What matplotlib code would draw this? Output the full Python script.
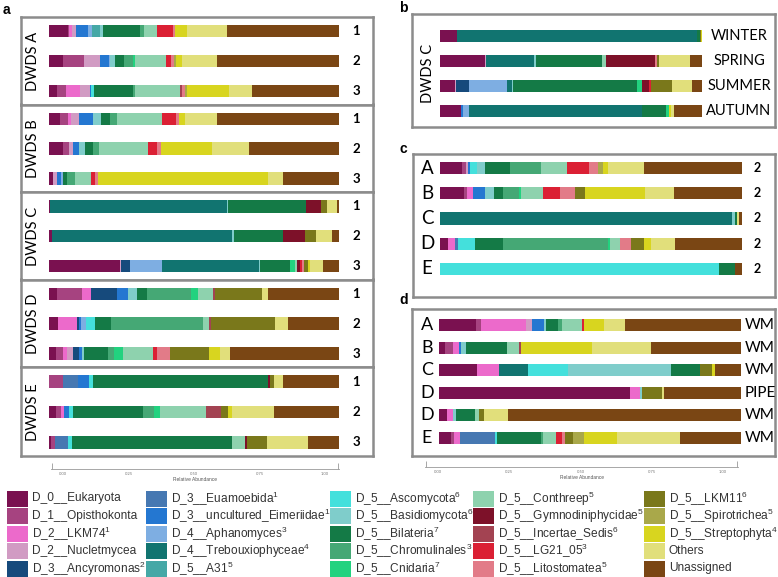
import matplotlib
matplotlib.use('Agg')
import matplotlib.pyplot as plt
from matplotlib.patches import Rectangle
import pandas as pd

plt.rcParams['font.family'] = ['Lato', 'DejaVu Sans']
plt.rcParams['mathtext.fontset'] = 'custom'
plt.rcParams['mathtext.rm'] = 'Liberation Sans'
plt.rcParams['mathtext.it'] = 'Liberation Sans'
plt.rcParams['mathtext.bf'] = 'Liberation Sans:bold'

# taxa, in stacking / legend order
cats = ['Euk', 'Opis', 'LKM74', 'Nuc', 'Ancy', 'Euam', 'Eim', 'Aph', 'Treb', 'A31',
        'Asco', 'Basid', 'Bil', 'Chrom', 'Cnid', 'Conth', 'Gymno', 'Incert', 'LG21', 'Lito',
        'LKM11', 'Spiro', 'Strep', 'Others', 'Unas']
legend_labels = ['D_0__Eukaryota', 'D_1__Opisthokonta', 'D_2__LKM74$^{1}$', 'D_2__Nucletmycea',
                 'D_3__Ancyromonas$^{2}$', 'D_3__Euamoebida$^{1}$', 'D_3__uncultured_Eimeriidae$^{1}$',
                 'D_4__Aphanomyces$^{3}$', 'D_4__Trebouxiophyceae$^{4}$', 'D_5__A31$^{5}$',
                 'D_5__Ascomycota$^{6}$', 'D_5__Basidiomycota$^{6}$', 'D_5__Bilateria$^{7}$',
                 'D_5__Chromulinales$^{3}$', 'D_5__Cnidaria$^{7}$', 'D_5__Conthreep$^{5}$',
                 'D_5__Gymnodiniphycidae$^{5}$', 'D_5__Incertae_Sedis$^{6}$', 'D_5__LG21_05$^{3}$',
                 'D_5__Litostomatea$^{5}$', 'D_5__LKM11$^{6}$', 'D_5__Spirotrichea$^{5}$',
                 'D_5__Streptophyta$^{4}$', 'Others', 'Unassigned']
colors = ['#7a1150', '#a64380', '#ec6acb', '#d19bc3', '#164a7c', '#4678b2', '#2477d1', '#7eaee2',
          '#117470', '#45a8a6', '#44e0dc', '#7fcdcb', '#147a46', '#45a875', '#22d27f', '#8ed2ae',
          '#7d1129', '#a34352', '#db2034', '#e27b88', '#7a781b', '#a9a84a', '#d8d51f', '#e1df7b',
          '#7a4614']

# panel a: relative abundance (%) for samples 1-3 of each DWDS
dwds_a = [
    {'Euk': 6.7, 'Opis': 0.3, 'LKM74': 0.8, 'Nuc': 1.5, 'Eim': 4.0, 'Aph': 1.4, 'A31': 2.9, 'Basid': 1.1,
     'Bil': 12.6, 'Chrom': 1.4, 'Conth': 4.4, 'Gymno': 0.2, 'LG21': 5.3, 'Lito': 0.8, 'Strep': 4.3,
     'Others': 13.6, 'Unas': 38.7},
    {'Euk': 4.7, 'Opis': 7.4, 'Nuc': 5.3, 'Eim': 3.1, 'Aph': 0.6, 'Basid': 1.8, 'Bil': 3.1, 'Chrom': 2.9,
     'Cnid': 0.8, 'Conth': 10.7, 'LG21': 1.7, 'Lito': 1.1, 'Spiro': 0.6, 'Strep': 2.1, 'Others': 12.0,
     'Unas': 42.0},
    {'Euk': 2.6, 'Opis': 3.4, 'LKM74': 4.6, 'Nuc': 3.4, 'Eim': 0.6, 'Asco': 0.8, 'Bil': 13.6, 'Chrom': 0.6,
     'Conth': 15.5, 'Incert': 0.6, 'Lito': 1.1, 'Spiro': 0.6, 'Strep': 14.6, 'Others': 8.0, 'Unas': 29.9},
]
dwds_b = [
    {'Euk': 3.8, 'Opis': 2.9, 'LKM74': 0.8, 'Nuc': 2.9, 'Eim': 4.9, 'Basid': 2.5, 'Bil': 3.2, 'Chrom': 2.3,
     'Conth': 15.5, 'LG21': 4.9, 'Lito': 1.1, 'Strep': 2.2, 'Others': 10.9, 'Unas': 42.0},
    {'Euk': 4.7, 'Opis': 2.3, 'Nuc': 1.4, 'Eim': 2.1, 'Basid': 2.0, 'Bil': 2.6, 'Chrom': 2.2, 'Conth': 16.7,
     'LG21': 3.2, 'Lito': 1.4, 'Strep': 17.6, 'Others': 12.9, 'Unas': 31.0},
    {'Euk': 1.5, 'Nuc': 1.1, 'Eim': 1.4, 'Aph': 0.9, 'Bil': 1.4, 'Chrom': 2.6, 'Conth': 5.7, 'LG21': 1.1,
     'Lito': 1.1, 'Strep': 58.6, 'Others': 5.2, 'Unas': 19.2},
]
dwds_c = [
    {'Euk': 0.2, 'Treb': 61.2, 'Basid': 0.3, 'Bil': 27.1, 'Gymno': 5.0, 'LKM11': 2.0, 'Others': 3.5,
     'Unas': 0.8},
    {'Euk': 1.0, 'Treb': 62.2, 'Basid': 0.4, 'Bil': 17.1, 'Gymno': 7.5, 'LKM11': 3.7, 'Others': 5.5,
     'Unas': 2.5},
    {'Euk': 24.5, 'Nuc': 0.3, 'Ancy': 3.2, 'Aph': 10.8, 'Treb': 33.4, 'Basid': 0.3, 'Bil': 10.4, 'Cnid': 1.7,
     'Conth': 0.9, 'Gymno': 0.8, 'LG21': 0.8, 'Lito': 0.7, 'LKM11': 1.4, 'Strep': 0.6, 'Others': 4.4,
     'Unas': 5.6},
]
dwds_d = [
    {'Euk': 2.6, 'Opis': 8.9, 'LKM74': 3.0, 'Ancy': 9.1, 'Eim': 3.8, 'Basid': 2.9, 'Bil': 3.4, 'Chrom': 15.2,
     'Cnid': 2.6, 'Conth': 5.2, 'Incert': 0.6, 'LKM11': 16.1, 'Others': 2.3, 'Unas': 24.4},
    {'Euk': 3.2, 'LKM74': 6.3, 'Ancy': 0.9, 'Eim': 0.8, 'Aph': 1.4, 'Asco': 3.4, 'Bil': 5.5, 'Chrom': 31.6,
     'Conth': 2.0, 'Incert': 0.9, 'LKM11': 22.1, 'Others': 4.4, 'Unas': 17.5},
    {'Euk': 2.4, 'Opis': 2.3, 'LKM74': 1.4, 'Nuc': 2.1, 'Ancy': 2.3, 'Eim': 0.8, 'Basid': 0.9, 'Bil': 8.0,
     'Chrom': 2.2, 'Cnid': 3.0, 'Conth': 10.6, 'LG21': 1.4, 'Lito': 4.4, 'LKM11': 13.6, 'Strep': 3.7,
     'Others': 3.4, 'Unas': 37.6},
]
dwds_e = [
    {'Opis': 4.7, 'Euam': 5.2, 'Eim': 3.8, 'Asco': 1.4, 'Bil': 60.3, 'Gymno': 0.8, 'LKM11': 1.4,
     'Others': 3.2, 'Unas': 19.2},
    {'Euk': 2.4, 'Opis': 1.7, 'LKM74': 1.2, 'Eim': 1.7, 'Asco': 1.4, 'Bil': 24.2, 'Chrom': 3.6, 'Cnid': 2.2,
     'Conth': 15.7, 'Incert': 5.4, 'LKM11': 2.3, 'Strep': 1.4, 'Others': 14.4, 'Unas': 22.5},
    {'Euk': 0.7, 'Opis': 1.2, 'Euam': 4.8, 'Asco': 1.2, 'Bil': 55.1, 'Conth': 4.8, 'Gymno': 0.6,
     'LKM11': 7.0, 'Others': 14.1, 'Unas': 10.6},
]
panel_a = [('DWDS A', dwds_a), ('DWDS B', dwds_b), ('DWDS C', dwds_c), ('DWDS D', dwds_d), ('DWDS E', dwds_e)]
samples_a = ['1', '2', '3']

# panel b: DWDS C by season
seasons = ['WINTER', 'SPRING', 'SUMMER', 'AUTUMN']
season_rows = [
    {'Euk': 6.6, 'Treb': 91.5, 'Bil': 1.3, 'LKM11': 0.3, 'Strep': 0.3},
    {'Euk': 17.2, 'Nuc': 0.4, 'Treb': 18.3, 'Basid': 0.5, 'Bil': 25.2, 'Conth': 1.7, 'Gymno': 18.7,
     'Lito': 0.6, 'LKM11': 0.9, 'Others': 11.8, 'Unas': 4.5},
    {'Euk': 5.7, 'Nuc': 0.4, 'Ancy': 5.0, 'Aph': 14.6, 'Treb': 1.7, 'Basid': 0.4, 'Bil': 47.4, 'Cnid': 1.9,
     'Gymno': 2.5, 'LG21': 0.9, 'LKM11': 8.0, 'Others': 7.6, 'Unas': 3.8},
    {'Euk': 7.9, 'Eim': 1.0, 'Aph': 2.2, 'Treb': 66.2, 'Bil': 9.3, 'Cnid': 0.9, 'Strep': 0.8, 'Others': 1.3,
     'Unas': 10.7},
]

# panel c: sample 2 of each DWDS
c_names = ['A', 'B', 'C', 'D', 'E']
c_tags = ['2', '2', '2', '2', '2']
c_rows = [
    {'Euk': 7.2, 'Opis': 1.3, 'Nuc': 0.9, 'Eim': 0.6, 'Asco': 2.2, 'Basid': 2.8, 'Bil': 8.3, 'Chrom': 10.2,
     'Conth': 8.6, 'LG21': 7.2, 'Lito': 3.1, 'Spiro': 1.5, 'Strep': 1.7, 'Others': 11.9, 'Unas': 32.6},
    {'Euk': 8.0, 'Opis': 0.9, 'LKM74': 2.0, 'Eim': 3.9, 'Basid': 3.0, 'Bil': 2.9, 'Chrom': 5.4, 'Cnid': 0.7,
     'Conth': 7.4, 'LG21': 5.5, 'Lito': 5.0, 'LKM11': 3.3, 'Strep': 19.7, 'Others': 9.7, 'Unas': 22.5},
    {'Treb': 96.7, 'Basid': 1.1, 'Bil': 0.6, 'Others': 0.8, 'Unas': 0.9},
    {'Euk': 2.5, 'LKM74': 2.4, 'Euam': 1.1, 'Asco': 5.5, 'Bil': 9.2, 'Chrom': 34.7, 'Cnid': 0.9, 'Conth': 3.3,
     'Lito': 3.5, 'LKM11': 4.2, 'Strep': 2.5, 'Others': 7.7, 'Unas': 22.3},
    {'Asco': 92.5, 'Bil': 5.3, 'Unas': 2.2},
]

# panel d: water main vs pipe
d_names = ['A', 'B', 'C', 'D', 'D', 'E']
d_tags = ['WM', 'WM', 'WM', 'PIPE', 'WM', 'WM']
d_rows = [
    {'Euk': 12.4, 'Opis': 1.7, 'LKM74': 14.7, 'Nuc': 1.9, 'Eim': 4.2, 'Basid': 0.6, 'Bil': 4.1, 'Chrom': 1.1,
     'Conth': 6.6, 'LG21': 0.9, 'Strep': 6.6, 'Others': 6.9, 'Unas': 38.5},
    {'Euk': 2.0, 'Opis': 2.8, 'LKM74': 1.7, 'Eim': 0.8, 'Basid': 1.8, 'Bil': 13.5, 'Conth': 3.9, 'Incert': 0.6,
     'Strep': 23.5, 'Others': 19.5, 'Unas': 29.9},
    {'Euk': 12.5, 'LKM74': 7.4, 'Treb': 9.7, 'Asco': 13.0, 'Basid': 34.1, 'Bil': 9.6, 'LKM11': 4.1,
     'Strep': 0.9, 'Unas': 8.6},
    {'Euk': 63.4, 'LKM74': 3.0, 'Basid': 0.8, 'LKM11': 6.6, 'Others': 0.6, 'Unas': 25.6},
    {'Euk': 2.5, 'LKM74': 2.2, 'Basid': 0.9, 'Bil': 6.3, 'Conth': 1.3, 'LKM11': 1.7, 'Others': 7.8,
     'Unas': 77.3},
    {'Euk': 3.9, 'Opis': 1.1, 'LKM74': 1.9, 'Euam': 11.7, 'Asco': 0.6, 'Bil': 14.6, 'Chrom': 0.6, 'Conth': 4.4,
     'LG21': 1.9, 'Lito': 1.1, 'LKM11': 2.5, 'Spiro': 3.7, 'Strep': 11.1, 'Others': 20.7, 'Unas': 20.3},
]

W, H = 778, 577
fig = plt.figure(figsize=(W / 100, H / 100), dpi=100)
BOX = '#8c8c8c'


def box_axes(x0, y0, x1, y1):
    ax = fig.add_axes([x0 / W, 1 - y1 / H, (x1 - x0) / W, (y1 - y0) / H])
    for s in ax.spines.values():
        s.set_color(BOX)
        s.set_linewidth(1.8)
    ax.set_xticks([])
    ax.set_yticks([])
    return ax


def stack(ax, rows, height):
    df = pd.DataFrame(rows).reindex(columns=cats).fillna(0)
    df = df.div(df.sum(axis=1), axis=0)
    left = pd.Series(0.0, index=df.index)
    for cat, col in zip(cats, colors):
        ax.barh(df.index, df[cat], left=left, height=height, color=col, linewidth=0)
        left = left + df[cat]


def scale_axes(x0, x1, y, zero_px, one_px):
    ax = fig.add_axes([x0 / W, 1 - y / H, (x1 - x0) / W, 0.001])
    per = one_px - zero_px
    lo, hi = (x0 - zero_px) / per, (x1 - zero_px) / per
    ax.set_xlim(lo, hi)
    ax.set_yticks([])
    for s in ['top', 'left', 'right']:
        ax.spines[s].set_visible(False)
    ax.spines['bottom'].set_color('#999999')
    ax.spines['bottom'].set_linewidth(0.6)
    ax.set_xticks([0, 0.25, 0.5, 0.75, 1.0])
    ax.set_xticklabels(['0.00', '0.25', '0.50', '0.75', '1.00'], fontsize=3, color='#777777')
    ax.tick_params(axis='x', length=0, pad=2)
    ax.set_xticks([lo + 0.002, hi - 0.002], minor=True)
    ax.tick_params(axis='x', which='minor', direction='in', length=4, width=0.6, color='#999999')
    ax.set_xlabel('Relative Abundance', fontsize=3.5, color='#555555', labelpad=1,
                  family=['Liberation Sans', 'DejaVu Sans'])
    return ax


# ---- panel a
edges_a = [16.5, 104.5, 192, 279.5, 367, 456]
for k, (name, rows) in enumerate(panel_a):
    ax = box_axes(21, edges_a[k], 373, edges_a[k + 1])
    stack(ax, rows, 0.42)
    ax.set_xlim((21 - 49) / 290, (373 - 49) / 290)
    ax.set_ylim(2.45, -0.48)
    for i, s in enumerate(samples_a):
        ax.text(1.059, i, s, ha='center', va='center', fontsize=9.5, fontweight='bold')
    ax.text(-0.055, 1, name, rotation=90, ha='center', va='center', fontsize=10.5)
scale_axes(51, 339, 469, 63, 325)
fig.text(3 / W, 1 - 10 / H, 'a', fontsize=10, fontweight='bold', va='center',
         family=['Liberation Sans', 'DejaVu Sans'])

# ---- panel b
ax = box_axes(412, 14, 775, 127)
stack(ax, season_rows, 0.48)
ax.set_xlim((412 - 440) / 262, (775 - 440) / 262)
ax.set_ylim(3.64, -0.88)
for i, s in enumerate(seasons):
    ax.text(1.141, i, s, ha='center', va='center', fontsize=10.5)
ax.text(-0.046, 1.5, 'DWDS C', rotation=90, ha='center', va='center', fontsize=10.5)
fig.text(399 / W, 1 - 8 / H, 'b', fontsize=10, fontweight='bold', va='center',
         family=['Liberation Sans', 'DejaVu Sans'])

# ---- panel c
ax = box_axes(413, 154, 775, 297)
stack(ax, c_rows, 0.48)
ax.set_xlim((413 - 440) / 302, (775 - 440) / 302)
ax.set_ylim(4 + 28 / 25.25, -14 / 25.25)
for i, (n, t) in enumerate(zip(c_names, c_tags)):
    ax.text(-0.043, i, n, ha='center', va='center', fontsize=13.5)
    ax.text(1.050, i, t, ha='center', va='center', fontsize=9, fontweight='bold')
fig.text(399 / W, 1 - 149 / H, 'c', fontsize=10, fontweight='bold', va='center',
         family=['Liberation Sans', 'DejaVu Sans'])

# ---- panel d
ax = box_axes(412, 309, 775, 456)
stack(ax, d_rows, 0.53)
ax.set_xlim((412 - 439) / 302, (775 - 439) / 302)
ax.set_ylim(5 + 18 / 22.6, -16 / 22.6)
for i, (n, t) in enumerate(zip(d_names, d_tags)):
    ax.text(-0.040, i, n, ha='center', va='center', fontsize=13)
    ax.text(1.013, i, t, ha='left', va='center', fontsize=11)
scale_axes(425, 738, 467, 438, 723)
fig.text(399 / W, 1 - 300 / H, 'd', fontsize=10, fontweight='bold', va='center',
         family=['Liberation Sans', 'DejaVu Sans'])

# ---- legend
leg = fig.add_axes([0, 0, 1, 1])
leg.set_xlim(0, W)
leg.set_ylim(H, 0)
leg.axis('off')
col_x = [7, 146, 330, 473, 644]
row_y = [498.5, 516, 533.5, 551, 568.5]
for j, (lab, col) in enumerate(zip(legend_labels, colors)):
    cx, ry = col_x[j // 5], row_y[j % 5]
    leg.add_patch(Rectangle((cx, ry - 8), 21, 16, facecolor=col, edgecolor='none'))
    leg.text(cx + 25, ry, lab, va='center', ha='left', fontsize=8.6, color='#333333',
             family=['Liberation Sans', 'DejaVu Sans'])

fig.savefig('out.png', dpi=100)
